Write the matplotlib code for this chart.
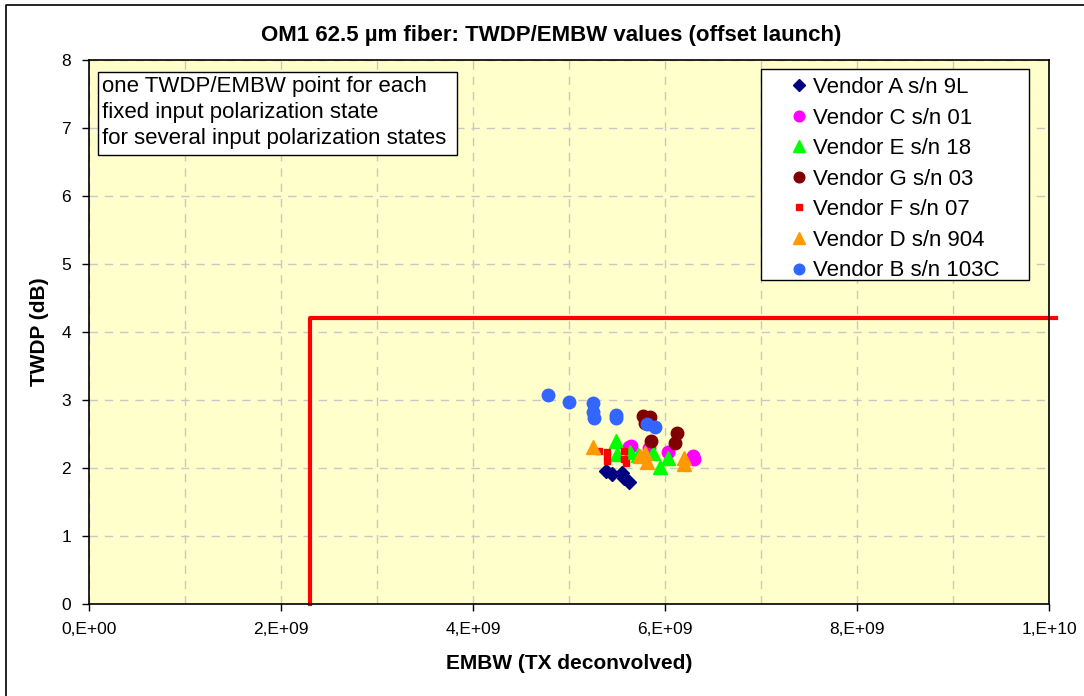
import matplotlib
matplotlib.use("Agg")
import matplotlib.pyplot as plt
from matplotlib.patches import Rectangle
from matplotlib.lines import Line2D
from matplotlib.ticker import MultipleLocator, FuncFormatter

plt.rcParams['font.family'] = ['Liberation Sans', 'DejaVu Sans']

# EMBW (Hz) / TWDP (dB) per vendor
a_x = [5.39e9, 5.45e9, 5.55e9, 5.57e9, 5.62e9]
a_y = [1.96, 1.91, 1.92, 1.86, 1.80]
c_x = [5.63e9, 5.65e9, 5.83e9, 6.03e9, 6.29e9, 6.30e9]
c_y = [2.31, 2.33, 2.29, 2.24, 2.18, 2.13]
e_x = [5.49e9, 5.50e9, 5.64e9, 5.72e9, 5.87e9, 6.03e9, 5.95e9]
e_y = [2.39, 2.20, 2.24, 2.19, 2.22, 2.14, 2.02]
g_x = [5.77e9, 5.84e9, 5.79e9, 5.85e9, 6.13e9, 6.10e9]
g_y = [2.77, 2.75, 2.66, 2.39, 2.51, 2.37]
f_x = [5.31e9, 5.40e9, 5.40e9, 5.40e9, 5.57e9, 5.57e9, 5.59e9]
f_y = [2.25, 2.24, 2.17, 2.11, 2.25, 2.13, 2.07]
d_x = [5.25e9, 5.74e9, 5.79e9, 5.81e9, 6.20e9, 6.20e9]
d_y = [2.31, 2.18, 2.22, 2.09, 2.14, 2.06]
b_x = [4.78e9, 5.00e9, 5.25e9, 5.25e9, 5.26e9, 5.49e9, 5.49e9, 5.81e9, 5.90e9]
b_y = [3.07, 2.97, 2.96, 2.82, 2.74, 2.74, 2.78, 2.64, 2.61]

# limit lines
embw_min = 2.3e9
twdp_max = 4.2

x_ticks = [0, 2e9, 4e9, 6e9, 8e9, 1e10]
x_tick_labels = ['0,E+00', '2,E+09', '4,E+09', '6,E+09', '8,E+09', '1,E+10']

fig = plt.figure(figsize=(10.84, 6.96), dpi=100)
W, H = 1084, 696
ax = fig.add_axes([89 / W, 92 / H, 960 / W, 544 / H])
ax.set_facecolor('#FFFFCC')

# outer chart frame (only left and top edges are inside the image)
fig.lines.append(Line2D([6 / W, 6 / W, 1.0], [0.0, 1 - 5 / H, 1 - 5 / H],
                        transform=fig.transFigure, color='black', linewidth=1.2))

ax.plot([embw_min, embw_min, 1.0068e10], [0, twdp_max, twdp_max], color='#FF0000',
        linewidth=3, clip_on=False, zorder=2)

ax.plot(a_x, a_y, linestyle='none', marker='D', ms=7.5, color='#000080', label='Vendor A s/n 9L', zorder=3)
ax.plot(c_x, c_y, linestyle='none', marker='o', ms=9, color='#FF00FF', label='Vendor C s/n 01', zorder=3)
ax.plot(e_x, e_y, linestyle='none', marker='^', ms=9.5, color='#00FF00', label='Vendor E s/n 18', zorder=3)
ax.plot(g_x, g_y, linestyle='none', marker='o', ms=9, color='#800000', label='Vendor G s/n 03', zorder=3)
ax.plot(f_x, f_y, linestyle='none', marker='s', ms=4.5, color='#FF0000', label='Vendor F s/n 07', zorder=3)
ax.plot(d_x, d_y, linestyle='none', marker='^', ms=9.5, color='#FF9900', label='Vendor D s/n 904', zorder=3)
ax.plot(b_x, b_y, linestyle='none', marker='o', ms=9, color='#3366FF', label='Vendor B s/n 103C', zorder=3)

ax.set_xlim(0, 1e10)
ax.set_ylim(0, 8)
ax.set_xticks(x_ticks)
ax.xaxis.set_major_formatter(FuncFormatter(lambda v, p: x_tick_labels[p] if p is not None and p < len(x_tick_labels) else ''))
ax.xaxis.set_minor_locator(MultipleLocator(1e9))
ax.yaxis.set_major_locator(MultipleLocator(1))
ax.tick_params(axis='both', which='major', direction='out', length=5, width=1, labelsize=12.5, pad=8)
ax.tick_params(axis='x', which='minor', length=0)
ax.grid(True, which='both', linestyle=(0, (6, 5)), color='#C8C8C8', linewidth=1, zorder=0)
ax.set_axisbelow(True)
for s in ax.spines.values():
    s.set_linewidth(1.2)

ax.set_xlabel('EMBW (TX deconvolved)', fontsize=15, fontweight='bold', labelpad=12)
ax.set_ylabel('TWDP (dB)', fontsize=15, fontweight='bold', labelpad=9)
fig.text(551 / W, 1 - 35 / H, 'OM1 62.5 µm fiber: TWDP/EMBW values (offset launch)',
         ha='center', va='center', fontsize=16, fontweight='bold')

# note box
ax.add_patch(Rectangle(((98 - 89) / 960, (604 - 155) / 544), 359 / 960, 83 / 544,
                       transform=ax.transAxes, facecolor='white', edgecolor='black',
                       linewidth=1, zorder=4))
ax.text((102 - 89) / 960, (604 - 76) / 544,
        'one TWDP/EMBW point for each\nfixed input polarization state\nfor several input polarization states',
        transform=ax.transAxes, ha='left', va='top', fontsize=16, linespacing=1.3, zorder=5)

# legend box
ax.add_patch(Rectangle(((761 - 89) / 960, (604 - 280) / 544), 268 / 960, 211 / 544,
                       transform=ax.transAxes, facecolor='white', edgecolor='black',
                       linewidth=1, zorder=4))
leg = ax.legend(loc='upper left', bbox_to_anchor=((789 - 89) / 960, (604 - 77) / 544), fontsize=16,
                frameon=False, markerscale=0.85, handlelength=0.9, handletextpad=0.2,
                labelspacing=0.43, borderpad=0, borderaxespad=0)
leg.set_zorder(6)

fig.savefig('out.png', dpi=100)
